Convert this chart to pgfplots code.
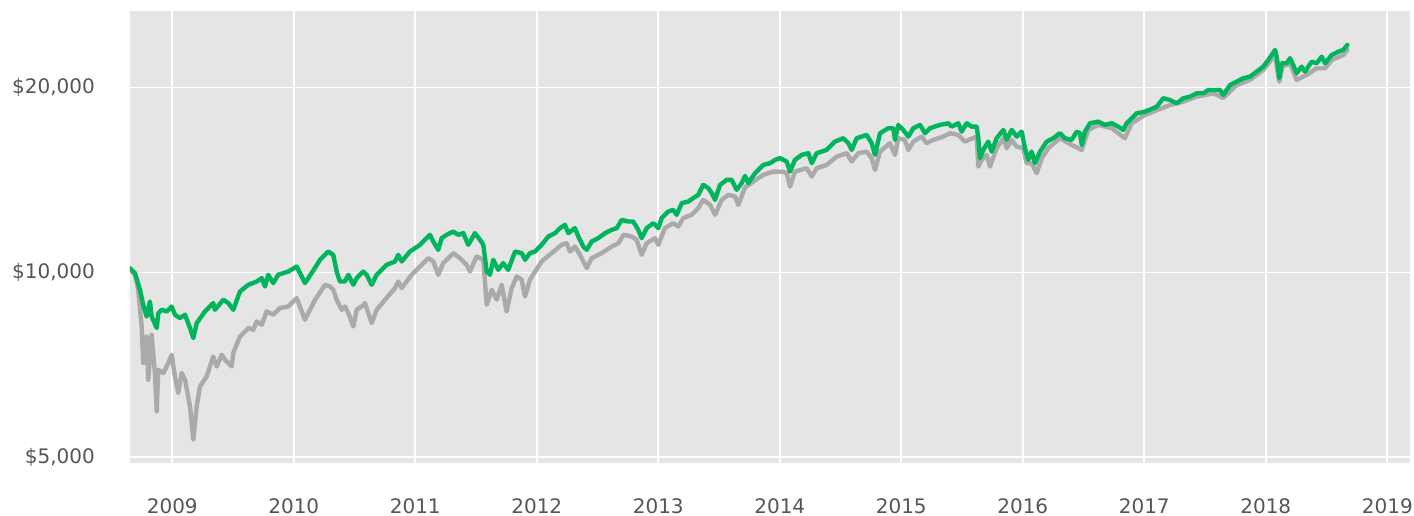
\documentclass[border=0pt]{standalone}
\usepackage{pgfplots}
\pgfplotsset{compat=1.18}
\usepackage{fontspec}
\setmainfont{DejaVu Sans}
\definecolor{bggray}{HTML}{E5E5E5}
\definecolor{tickgray}{HTML}{555555}
\definecolor{lgreen}{HTML}{00B55C}
\definecolor{lgray}{HTML}{AAAAAA}
\begin{document}
\begin{tikzpicture}
\begin{axis}[
  name=ax,
  scale only axis,
  width=1280bp, height=452bp,
  xmin=2008.652, xmax=2019.187,
  ymode=log, ymin=4889, ymax=26670,
  xtick={2009,2010,2011,2012,2013,2014,2015,2016,2017,2018,2019},
  xticklabels={2009,2010,2011,2012,2013,2014,2015,2016,2017,2018,2019},
  ytick={5000,10000,20000},
  yticklabels={{\$5,000},{\$10,000},{\$20,000}},
  axis background/.style={fill=bggray},
  axis line style={draw=none},
  major tick length=0pt,
  minor tick num=0,
  grid=major,
  grid style={white, line width=1.6bp},
  tick label style={font=\fontsize{20bp}{24bp}\selectfont, text=tickgray},
  xticklabel style={anchor=north, inner sep=0pt, yshift=-35.5bp},
  yticklabel style={anchor=east, inner sep=0pt, xshift=-35bp},
  every axis plot/.append style={line join=round, line cap=round},
]
\addplot[lgray, line width=4.4bp] coordinates {
(2008.652,10120) (2008.693,9907) (2008.720,9365) (2008.748,8160) (2008.761,7113)
(2008.789,7860) (2008.802,6682) (2008.830,7910) (2008.857,6852) (2008.872,5933)
(2008.885,6937) (2008.926,6852) (2008.967,7113) (2008.995,7339) (2009.022,6765)
(2009.049,6357) (2009.077,6852) (2009.105,6682) (2009.146,6045) (2009.173,5336)
(2009.201,6045) (2009.228,6516) (2009.283,6765) (2009.337,7292) (2009.365,7024)
(2009.407,7339) (2009.434,7202) (2009.489,7024) (2009.502,7386) (2009.557,7860)
(2009.626,8112) (2009.667,8060) (2009.695,8315) (2009.736,8213) (2009.777,8633)
(2009.831,8527) (2009.886,8744) (2009.955,8796) (2010.024,9078) (2010.092,8368)
(2010.175,9020) (2010.257,9542) (2010.298,9481) (2010.325,9365) (2010.353,9020)
(2010.394,8688) (2010.421,8796) (2010.449,8581) (2010.490,8160) (2010.518,8688)
(2010.559,8796) (2010.586,8909) (2010.613,8581) (2010.641,8265) (2010.682,8688)
(2010.751,9020) (2010.833,9425) (2010.860,9661) (2010.888,9425) (2010.970,9907)
(2011.039,10220) (2011.107,10547) (2011.148,10413) (2011.189,9907) (2011.230,10351)
(2011.313,10747) (2011.368,10547) (2011.423,10285) (2011.450,10030) (2011.505,10611)
(2011.560,10480) (2011.588,8852) (2011.629,9365) (2011.670,9020) (2011.711,9542)
(2011.752,8633) (2011.793,9425) (2011.835,9844) (2011.876,9723) (2011.903,9132)
(2011.944,9723) (2011.985,10020) (2012.040,10413) (2012.122,10747) (2012.205,11087)
(2012.246,11157) (2012.273,10811) (2012.314,11016) (2012.356,10678) (2012.411,10159)
(2012.452,10547) (2012.534,10747) (2012.617,11016) (2012.672,11157) (2012.713,11510)
(2012.781,11437) (2012.822,11296) (2012.863,10678) (2012.905,11157) (2012.973,11369)
(2013.000,11087) (2013.055,11803) (2013.123,12027) (2013.165,11874) (2013.206,12254)
(2013.275,12407) (2013.329,12723) (2013.370,13125) (2013.426,12881) (2013.467,12407)
(2013.522,13125) (2013.576,13374) (2013.632,13289) (2013.659,12881) (2013.714,13755)
(2013.782,14058) (2013.864,14415) (2013.947,14595) (2014.016,14595) (2014.057,14508)
(2014.084,13796) (2014.125,14595) (2014.221,14782) (2014.263,14324) (2014.304,14782)
(2014.386,14966) (2014.468,15440) (2014.551,15638) (2014.592,15153) (2014.646,15638)
(2014.715,15732) (2014.756,15347) (2014.784,14688) (2014.825,15732) (2014.907,16236)
(2014.948,15538) (2014.975,16543) (2015.030,16438) (2015.058,15833) (2015.099,16333)
(2015.168,16643) (2015.209,16236) (2015.263,16438) (2015.346,16643) (2015.401,16856)
(2015.469,16749) (2015.524,16333) (2015.621,16643) (2015.634,14871) (2015.662,15250)
(2015.703,15538) (2015.730,14871) (2015.785,15934) (2015.840,16543) (2015.868,15934)
(2015.909,16438) (2015.950,16030) (2016.004,15934) (2016.032,15062) (2016.073,15062)
(2016.114,14508) (2016.156,15347) (2016.210,15934) (2016.306,16543) (2016.402,16132)
(2016.485,15833) (2016.539,17066) (2016.621,17389) (2016.731,17175) (2016.840,16543)
(2016.896,17500) (2017.005,18053) (2017.074,18278) (2017.211,18743) (2017.321,18976)
(2017.431,19336) (2017.568,19584) (2017.650,19242) (2017.761,20203) (2017.870,20585)
(2017.979,21372) (2018.076,22609) (2018.111,20455) (2018.136,21639) (2018.199,21916)
(2018.254,20585) (2018.336,20975) (2018.419,21509) (2018.488,21509) (2018.543,22189)
(2018.638,22609) (2018.671,23038)
};
\addplot[lgreen, line width=4.4bp] coordinates {
(2008.652,10150) (2008.693,9970) (2008.734,9365) (2008.761,8852) (2008.789,8472)
(2008.816,8963) (2008.830,8472) (2008.872,8112) (2008.885,8581) (2008.913,8688)
(2008.954,8633) (2008.995,8796) (2009.022,8527) (2009.063,8422) (2009.105,8527)
(2009.146,8112) (2009.173,7813) (2009.201,8265) (2009.269,8633) (2009.337,8909)
(2009.351,8688) (2009.420,9020) (2009.461,8909) (2009.502,8688) (2009.557,9305)
(2009.626,9542) (2009.695,9661) (2009.736,9785) (2009.763,9481) (2009.790,9907)
(2009.831,9603) (2009.872,9907) (2009.955,10030) (2010.024,10220) (2010.092,9603)
(2010.147,9970) (2010.216,10480) (2010.284,10811) (2010.325,10678) (2010.353,10030)
(2010.380,9661) (2010.421,9661) (2010.449,9907) (2010.490,9542) (2010.518,9785)
(2010.572,10030) (2010.600,9907) (2010.641,9542) (2010.682,9907) (2010.765,10285)
(2010.833,10413) (2010.860,10678) (2010.888,10413) (2010.956,10811) (2011.039,11087)
(2011.121,11510) (2011.148,11225) (2011.189,10881) (2011.217,11369) (2011.258,11510)
(2011.313,11654) (2011.354,11510) (2011.395,11584) (2011.436,11087) (2011.491,11584)
(2011.533,11296) (2011.560,11087) (2011.588,10030) (2011.615,9907) (2011.642,10480)
(2011.683,10094) (2011.724,10351) (2011.765,10094) (2011.821,10811) (2011.876,10747)
(2011.903,10480) (2011.944,10747) (2011.985,10811) (2012.040,11087) (2012.095,11437)
(2012.150,11584) (2012.191,11803) (2012.232,11950) (2012.259,11584) (2012.314,11803)
(2012.342,11437) (2012.383,11016) (2012.411,10881) (2012.452,11225) (2012.506,11369)
(2012.562,11584) (2012.617,11728) (2012.658,11803) (2012.699,12177) (2012.753,12099)
(2012.794,12099) (2012.835,11728) (2012.863,11369) (2012.905,11803) (2012.959,12027)
(2013.000,11803) (2013.028,12254) (2013.082,12561) (2013.123,12642) (2013.151,12407)
(2013.193,12964) (2013.247,13042) (2013.288,13209) (2013.329,13374) (2013.370,13885)
(2013.412,13714) (2013.440,13459) (2013.467,13125) (2013.508,13885) (2013.563,14148)
(2013.604,14148) (2013.645,13627) (2013.686,13974) (2013.714,14361) (2013.741,13974)
(2013.796,14508) (2013.864,14966) (2013.920,15062) (2013.961,15250) (2014.002,15347)
(2014.057,15153) (2014.084,14595) (2014.125,15250) (2014.180,15538) (2014.235,15638)
(2014.263,15062) (2014.304,15638) (2014.386,15833) (2014.454,16333) (2014.523,16543)
(2014.564,16236) (2014.592,15833) (2014.633,16543) (2014.715,16749) (2014.756,16236)
(2014.784,15538) (2014.825,16856) (2014.893,17175) (2014.934,17175) (2014.948,16438)
(2014.975,17389) (2015.016,17066) (2015.058,16643) (2015.099,17175) (2015.154,17389)
(2015.195,16856) (2015.236,17175) (2015.318,17389) (2015.387,17500) (2015.415,17278)
(2015.469,17500) (2015.497,16958) (2015.538,17500) (2015.579,17278) (2015.621,17278)
(2015.634,16543) (2015.648,15347) (2015.675,15833) (2015.716,16333) (2015.744,15732)
(2015.785,16543) (2015.840,17066) (2015.868,16438) (2015.909,17066) (2015.950,16643)
(2015.991,16958) (2016.018,15934) (2016.045,15250) (2016.073,15732) (2016.100,15062)
(2016.142,15732) (2016.197,16333) (2016.251,16543) (2016.306,16856) (2016.347,16543)
(2016.402,16438) (2016.444,16958) (2016.471,16856) (2016.485,16132) (2016.512,16958)
(2016.553,17500) (2016.621,17605) (2016.676,17389) (2016.731,17500) (2016.786,17278)
(2016.827,17066) (2016.855,17500) (2016.896,17831) (2016.937,18168) (2017.005,18278)
(2017.074,18512) (2017.102,18624) (2017.156,19220) (2017.211,19098) (2017.267,18863)
(2017.321,19220) (2017.376,19336) (2017.431,19584) (2017.486,19584) (2017.527,19828)
(2017.568,19828) (2017.623,19828) (2017.650,19459) (2017.706,20203) (2017.761,20455)
(2017.815,20717) (2017.870,20842) (2017.925,21237) (2017.979,21639) (2018.021,22189)
(2018.076,23038) (2018.090,22466) (2018.111,20717) (2018.131,21916) (2018.172,21916)
(2018.199,22331) (2018.226,21777) (2018.254,21110) (2018.295,21639) (2018.322,21237)
(2018.378,22048) (2018.419,21916) (2018.460,22466) (2018.488,21916) (2018.543,22609)
(2018.597,22891) (2018.638,23038) (2018.671,23474)
};
\end{axis}
\pgfresetboundingbox
\path (ax.south west) ++(-130bp,-53bp) coordinate (bl);
\path (ax.north east) ++(4bp,11bp) coordinate (tr);
\useasboundingbox (bl) rectangle (tr);
\end{tikzpicture}
\end{document}
